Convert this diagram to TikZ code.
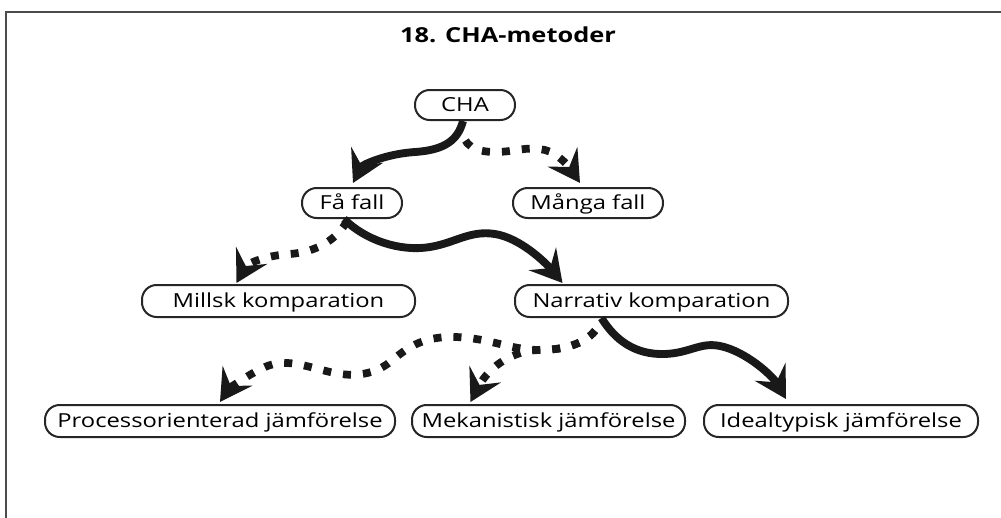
\documentclass[tikz,border=0pt]{standalone}
\usepackage{fontspec}
\setmainfont{Open Sans}[FakeStretch=1.23]
\usetikzlibrary{arrows.meta,calc}
\begin{document}
\begin{tikzpicture}[x=0.75pt,y=-0.75pt,
  box/.style={draw=black!85, line width=1.5pt, rounded corners=11pt,
    minimum height=22.5pt, inner sep=0pt, text height=10.35pt, text depth=0pt,
    font=\fontsize{14.5pt}{17pt}\selectfont},
  tiphead/.style={-{Stealth[length=23.5pt,width=26.5pt,inset=9pt]}},
  solidarrow/.style={tiphead, line width=5.9pt, black!90},
  dotarrow/.style={tiphead, line width=5.8pt, black!90, dash pattern=on 6pt off 9pt},
  frameline/.style={line width=1.5pt, black!70}
]
\useasboundingbox (0,0) rectangle (1001,518);
% frame
\coordinate (fbl) at (6,518);
\coordinate (ftl) at (6,12);
\coordinate (ftr) at (1001,12);
\draw[frameline] (fbl) -- (ftl) -- (ftr);
% title
\node[font=\bfseries\fontsize{15.5pt}{18pt}\selectfont, text height=11pt, text depth=0pt, inner sep=0pt] (title) at (508,35) {18. CHA-metoder};
% nodes
\node[box, minimum width=75pt] (cha) at (465,105) {CHA};
\node[box, minimum width=75pt] (fa) at (352,203) {Få fall};
\node[box, minimum width=112.5pt] (many) at (588,203) {Många fall};
\node[box, minimum width=204.75pt, minimum height=24pt] (mill) at (278.5,301) {Millsk komparation};
\node[box, minimum width=204.75pt, minimum height=24pt] (narr) at (651.5,301) {Narrativ komparation};
\node[box, minimum width=262.5pt, minimum height=24pt] (proc) at (220,421) {Processorienterad jämförelse};
\node[box, minimum width=204.75pt, minimum height=24pt] (mek) at (548.5,421) {Mekanistisk jämförelse};
\node[box, minimum width=205.5pt, minimum height=24pt] (ideal) at (841,421) {Idealtypisk jämförelse};
% connectors
\draw[dotarrow, dash phase=6pt] ($(cha.south)+(-2,8)$) .. controls (462,145) and (475,152) .. (495,152)
  .. controls (515,152) and (525,146) .. (545,150)
  .. controls (558,153) and (570,168) .. ($(many.north)+(-8,-4)$);
\draw[solidarrow] ($(cha.south)+(-2,0)$) .. controls (458,140) and (445,150) .. (415,152)
  .. controls (385,154) and (362,165) .. ($(fa.north)+(1,-4)$);
\draw[dotarrow] ($(fa.south)+(-5,2)$) .. controls (338,238) and (318,252) .. (290,254)
  .. controls (270,255) and (248,262) .. ($(mill.north)+(-42,-1)$);
\draw[solidarrow] ($(fa.south)+(-8,0)$) .. controls (365,240) and (400,252) .. (430,247)
  .. controls (455,243) and (470,230) .. (495,234)
  .. controls (520,238) and (545,262) .. ($(narr.north)+(-89,-1)$);
\draw[dotarrow, dash phase=6pt] ($(narr.south)+(-51,2)$) .. controls (595,340) and (570,350) .. (540,350)
  .. controls (510,350) and (490,338) .. (455,337)
  .. controls (420,336) and (405,350) .. (390,362)
  .. controls (375,374) and (355,378) .. (330,372)
  .. controls (305,366) and (285,358) .. (265,367)
  .. controls (245,376) and (228,390) .. ($(proc.north)+(0,-2)$);
\draw[dotarrow, dash phase=6pt] ($(narr.south)+(-51,2)$) .. controls (595,340) and (570,350) .. (540,350)
  .. controls (515,350) and (490,365) .. ($(mek.north)+(-78,-2)$);
\draw[solidarrow] ($(narr.south)+(-50,0)$) .. controls (615,340) and (635,355) .. (665,354)
  .. controls (690,353) and (700,342) .. (720,346)
  .. controls (745,351) and (772,375) .. ($(ideal.north)+(-55,-5)$);
\end{tikzpicture}
\end{document}
